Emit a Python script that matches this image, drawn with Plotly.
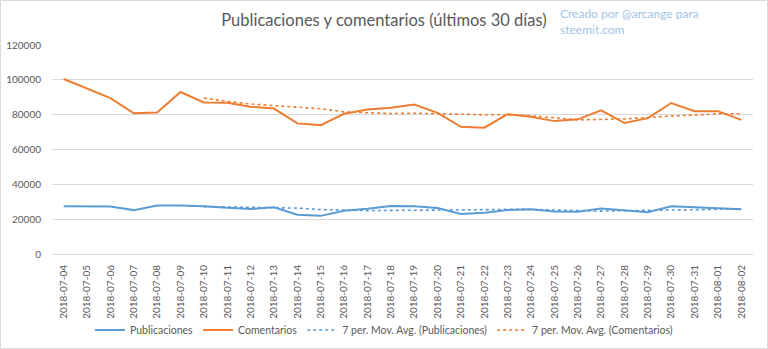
import pandas as pd
import plotly.graph_objects as go

# Daily dates for the last 30 days
dates = pd.date_range("2018-07-04", "2018-08-02", freq="D").strftime("%Y-%m-%d").tolist()

publicaciones = [27400, 27400, 27300, 25200, 27800, 27800, 27400, 26500, 25800, 26800,
                 22500, 21900, 24800, 26000, 27600, 27400, 26400, 23000, 23700, 25300,
                 25700, 24400, 24200, 26100, 25000, 24000, 27400, 26800, 26300, 25700]

comentarios = [100500, 95000, 89500, 80800, 81300, 93000, 87000, 86800, 84500, 83500,
               75000, 74000, 80500, 83000, 84000, 85800, 81000, 73000, 72500, 80300,
               78800, 76300, 77300, 82500, 75200, 78000, 86700, 82000, 82000, 77000]

y_ticks = [0, 20000, 40000, 60000, 80000, 100000, 120000]

BLUE = "#5B9BD5"
ORANGE = "#ED7D31"
GRID = "#D9D9D9"
TEXT = "#595959"
FONT = "Lato"

# 7-period moving average trendlines
ma_pub = pd.Series(publicaciones).rolling(7).mean().tolist()
ma_com = pd.Series(comentarios).rolling(7).mean().tolist()

fig = go.Figure()
fig.add_trace(go.Scatter(x=dates, y=publicaciones, mode="lines", name="Publicaciones",
                         line=dict(color=BLUE, width=2)))
fig.add_trace(go.Scatter(x=dates, y=comentarios, mode="lines", name="Comentarios",
                         line=dict(color=ORANGE, width=2)))
fig.add_trace(go.Scatter(x=dates, y=ma_pub, mode="lines",
                         name="7 per. Mov. Avg. (Publicaciones)",
                         line=dict(color=BLUE, width=1.6, dash="dot")))
fig.add_trace(go.Scatter(x=dates, y=ma_com, mode="lines",
                         name="7 per. Mov. Avg. (Comentarios)",
                         line=dict(color=ORANGE, width=1.6, dash="dot")))

L, R, T, B = 52, 15, 45, 95
W, H = 768, 349
pw, ph = W - L - R, H - T - B

fig.update_layout(
    width=W, height=H,
    margin=dict(l=L, r=R, t=T, b=B, autoexpand=False),
    paper_bgcolor="white", plot_bgcolor="white",
    font=dict(family=FONT, color=TEXT, size=10),
    title=dict(text="Publicaciones y comentarios (últimos 30 días)",
               x=0.5, xref="container", xanchor="center",
               y=1 - 20 / H, yanchor="middle",
               font=dict(family=FONT, size=16.5, color=TEXT)),
    xaxis=dict(type="category", tickangle=-90, showgrid=False,
               range=[-0.5, len(dates) - 0.5],
               showline=True, linecolor=GRID, linewidth=1, automargin=False,
               ticks="", ticklabelstandoff=6,
               tickfont=dict(size=10, color=TEXT), zeroline=False),
    yaxis=dict(range=[0, 120000], tickvals=y_ticks,
               ticktext=[str(v) for v in y_ticks], automargin=False,
               showgrid=True, gridcolor=GRID, gridwidth=1,
               zeroline=False, showline=False, ticks="", ticklabelstandoff=10,
               tickfont=dict(size=10, color=TEXT)),
    legend=dict(orientation="h", x=0.5, xanchor="center", xref="container",
                y=(ph - (330 - T)) / ph, yanchor="middle",
                font=dict(size=10.5, color=TEXT), bgcolor="rgba(0,0,0,0)",
                itemwidth=30),
    showlegend=True,
)

fig.add_annotation(text="Creado por @arcange para<br>steemit.com",
                   xref="paper", yref="paper",
                   x=(558 - L) / pw, y=1 + (T - 4) / ph,
                   xanchor="left", yanchor="top", align="left",
                   showarrow=False,
                   font=dict(family=FONT, size=12, color="#9DC3E6"))

# Light frame around the whole chart
fig.add_shape(type="rect", xref="paper", yref="paper",
              x0=(-L + 0.5) / pw, x1=(pw + R - 0.5) / pw,
              y0=(-B + 0.5) / ph, y1=(ph + T - 0.5) / ph,
              line=dict(color=GRID, width=1), layer="below")

fig.write_html("out.html")
